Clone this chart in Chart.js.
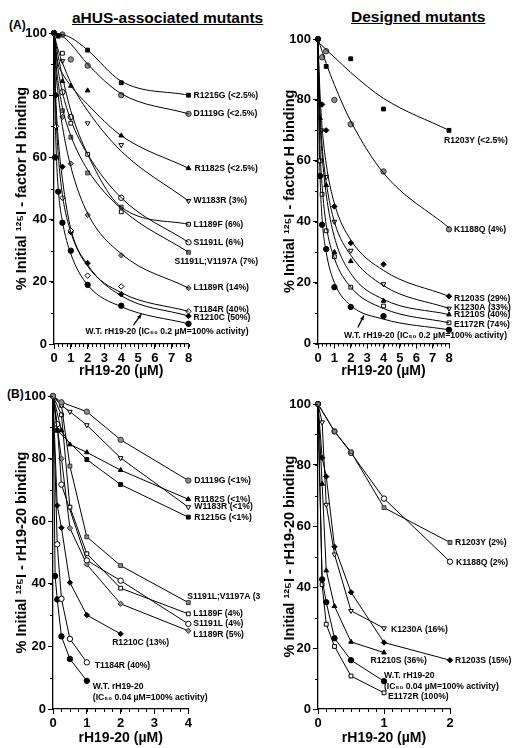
<!DOCTYPE html>
<html>
<head>
<meta charset="utf-8">
<script src="https://cdn.jsdelivr.net/npm/chart.js@4.4.1/dist/chart.umd.min.js"></script>
<style>
  body { margin: 0; width: 520px; height: 748px; overflow: hidden; background: #fff; position: relative;
         font-family: "Liberation Sans", Arial, sans-serif; }
  canvas { position: absolute; }
  .txt { position: absolute; font-weight: bold; color: #000; white-space: nowrap; }
  .head { font-size: 15.5px; text-decoration: underline; }
  .tag { font-size: 12px; }
</style>
</head>
<body>
<div class="txt tag" style="left:9px;top:18px">(A)</div>
<div class="txt head" style="left:72px;top:9px">aHUS-associated mutants</div>
<div class="txt head" style="left:351px;top:8px">Designed mutants</div>
<div class="txt tag" style="left:7px;top:387px">(B)</div>

<canvas id="aLeft" width="260" height="386" style="left:0;top:0"></canvas>
<canvas id="aRight" width="260" height="386" style="left:260px;top:0"></canvas>
<canvas id="bLeft" width="260" height="368" style="left:0;top:380px"></canvas>
<canvas id="bRight" width="260" height="368" style="left:260px;top:380px"></canvas>

<script>
// ---- (A) factor H binding, fitted curves ----
const aX = [0, 0.0625, 0.125, 0.25, 0.5, 1, 2, 4, 8];

const aHusNames = ["R1215G (<2.5%)", "D1119G (<2.5%)", "R1182S (<2.5%)", "W1183R (3%)", "L1189F (6%)",
  "S1191L (6%)", "S1191L;V1197A (7%)", "L1189R (14%)", "T1184R (40%)", "R1210C (50%)",
  "W.T. rH19-20 (IC\u2085\u2080 0.2 \u00b5M=100% activity)"];
const aHusPoints = [
  [100, null, null, 99, null, null, 94.5, 84, 80],
  [100, null, null, null, 99.5, 91.5, 89.5, 80, 74],
  [100, null, null, null, 84.5, 83, 81.5, 67, 56.5],
  [100, null, null, null, 91, null, 71, 64, 46],
  [100, null, null, null, 93.5, 71, 61, 42.5, 38.5],
  [100, null, null, null, 81, 73, null, 47, 32.7],
  [100, null, null, null, 75, 66.5, 55, 44, 29.5],
  [100, null, null, null, 73, 58, 41.5, 28.5, 18],
  [100, null, 70, null, 47, 36.5, 22, 18.5, 10.5],
  [100, null, 80, null, 57, 36, 26, 16, 9],
  [100, 60, null, 49, 39, 30, 19, 12.3, 6.5]
];
const aHusFits = [
  [100, 100, 100, 99.8, 99.5, 98.5, 94.5, 84.5, 80],
  [100, 100, 99.9, 99.7, 99, 96.5, 90, 80.5, 74],
  [100, 97, 94, 90, 87, 83, 77, 67, 56.5],
  [100, 98.5, 97, 94.5, 90.5, 84, 75, 62, 46],
  [100, 98, 96, 92.5, 86, 75, 61, 44, 38.5],
  [100, 96, 93, 88, 81, 72, 61, 47, 32.7],
  [100, 95, 90, 84, 76, 67, 56, 43.5, 29.5],
  [100, 93, 87, 80, 70, 57, 42, 29, 18],
  [100, 83, 73, 61, 48, 36, 25, 16.5, 10.5],
  [100, 86, 77, 66, 53, 37, 25.5, 15.5, 9],
  [100, 76, 63, 50, 39.5, 29, 19, 12, 6.5]
];
const aHusMarks = ["sqBlack", "ciGray", "triBlack", "triOpen", "sqOpen", "ciOpen", "sqGray", "diaGray", "diaOpen", "diaBlack", "ciBlack"];

const aDesNames = ["R1203Y (<2.5%)", "K1188Q (4%)", "R1203S (29%)", "K1230A (33%)", "R1210S (40%)", "E1172R (74%)",
  "W.T. rH19-20 (IC\u2085\u2080 0.2 \u00b5M=100% activity)"];
const aDesPoints = [
  [100, null, null, null, 91, null, 93.5, 77, 70],
  [100, null, null, 94, 96, 80, 72, 56.5, 37.5],
  [100, null, null, 78.5, 70, 45, 33, 26, 15.5],
  [100, null, null, 70, 54.7, 40, 30.5, 19.5, 11.5],
  [100, null, 74, null, 52, 30, 27, 14, 9.5],
  [100, null, 60, 49, 37, 28.5, 18.5, 12.3, 6.8],
  [100, null, 55, 39, 31, 18.5, 12, 9, 4.5]
];
const aDesFits = [
  [99, 98.7, 98.4, 97.8, 96.5, 94, 89, 80.5, 70],
  [100, 99, 98, 96, 92, 85, 73, 56, 38],
  [100, 90, 82, 71, 59, 46, 34, 24, 15.5],
  [100, 86, 76, 65, 53, 40, 29, 19, 11.5],
  [100, 84, 73, 62, 49, 35, 23, 14.5, 9.5],
  [100, 78, 64, 52, 39, 28, 18.5, 11.5, 6.8],
  [100, 70, 55, 41, 30, 20, 12.5, 8, 4.5]
];
const aDesMarks = ["sqBlack", "ciGray", "diaBlack", "triOpen", "triBlack", "sqOpen", "ciBlack"];

// ---- (B) rH19-20 binding, point-to-point ----
const bLX = [0, 0.0625, 0.125, 0.25, 0.5, 1, 2, 4];
const bHusNames = ["D1119G (<1%)", "R1182S (<1%)", "W1183R (<1%)", "R1215G (<1%)", "S1191L;V1197A (3%)",
  "L1189F (4%)", "S1191L (4%)", "L1189R (5%)", "R1210C (13%)", "T1184R (40%)", "W.T. rH19-20"];
const bHusValues = [
  [100, null, null, 98, null, 95, 86, 73],
  [100, null, null, 89, 84.5, 82, 76.3, 67],
  [100, null, null, 97, 95, 90.7, 80.2, 64.5],
  [100, null, 89, null, null, 79.7, 71.7, 61.3],
  [100, null, null, 97, 77.6, 55, 45.8, 34],
  [100, null, null, 94, 64.5, 49.6, 38.6, 30.4],
  [100, null, 91, 71.7, null, 47.5, 41, 27.2],
  [100, null, null, 80, 57.8, 46.2, 33.6, 25],
  [100, null, 65, 57.9, 40.4, 30, 24, null],
  [100, null, 52.6, 35.2, 22.4, 14.9, null, null],
  [100, 42.5, 35, 23.2, 16, 9, null, null]
];
const bHusMarks = ["ciGray", "triBlack", "triOpen", "sqBlack", "sqGray", "sqOpen", "ciOpen", "diaGray", "diaBlack", "ciOpen", "ciBlack"];

const bRX = [0, 0.0625, 0.125, 0.25, 0.5, 1, 2];
const bDesNames = ["R1203Y (2%)", "K1188Q (2%)", "K1230A (16%)", "R1203S (15%)", "R1210S (36%)", "W.T. rH19-20", "E1172R (100%)"];
const bDesValues = [
  [100, null, null, 91, 84.3, 66, 54.6],
  [100, null, null, 91, 84, 69, 48.3],
  [100, 94, 67, 50.7, 32.2, 26.5, null],
  [100, 82.4, 76.2, 53.2, 38.3, 21.8, 16],
  [100, 73.8, 45.4, 33.7, 22, 18.5, null],
  [100, 42.5, 35, 23.2, 16, 9.1, null],
  [100, 40.8, 27.8, 20.5, 10.8, 5.3, null]
];
const bDesMarks = ["sqGray", "ciOpen", "triOpen", "diaBlack", "triBlack", "ciBlack", "sqOpen"];
const wtSecondLine = "(IC\u2085\u2080 0.04 \u00b5M=100% activity)";

// label placement relative to the last point of each series: [dx, dy, align]
const aHusTagPos = [[5, 0], [5, 0], [6, 0], [5, 0], [5, 0], [5, 0], [-14, 9], [5, 0], [5, -2], [5, 2], [60, 8, "right"]];
const aDesTagPos = [[-5, 10], [5, 0], [5, 2], [5, -1], [5, 0], [5, 2], [58, 6, "right"]];
const bHusTagPos = [[6, 0], [6, 0], [6, 0], [6, 0], [-1, -6], [5, 0], [5, 0], [5, 4], [-8.5, 8.5], [8, 3], [6, 6]];
const bDesTagPos = [[5, 0], [6, 1], [7, 1], [5, 0], [-13.5, 8], [0, -6], [4, 4]];

const MARK = {
  sqBlack: { s: "rect", bg: "#000", bd: "#000" },
  sqGray: { s: "rect", bg: "#8c8c8c", bd: "#333" },
  sqOpen: { s: "rect", bg: "#fff", bd: "#000" },
  ciBlack: { s: "circle", bg: "#000", bd: "#000" },
  ciGray: { s: "circle", bg: "#8c8c8c", bd: "#333" },
  ciOpen: { s: "circle", bg: "#fff", bd: "#000" },
  triBlack: { s: "triangle", bg: "#000", bd: "#000" },
  triOpen: { s: "triangle", bg: "#fff", bd: "#000", rot: 180 },
  diaBlack: { s: "rectRot", bg: "#000", bd: "#000" },
  diaGray: { s: "rectRot", bg: "#8c8c8c", bd: "#333" },
  diaOpen: { s: "rectRot", bg: "#fff", bd: "#000" }
};

const FONT = '"Liberation Sans", Arial, sans-serif';

function toXY(xs, ys) {
  return xs.map((x, i) => ({ x: x, y: ys[i] })).filter(p => p.y !== null);
}

const seriesLabels = {
  id: "seriesLabels",
  afterDatasetsDraw(chart) {
    const ctx = chart.ctx;
    ctx.save();
    ctx.fillStyle = "#000";
    ctx.font = "bold 8.6px " + FONT;
    ctx.textBaseline = "middle";
    chart.data.datasets.forEach((ds, i) => {
      if (!ds.tag) return;
      const els = chart.getDatasetMeta(i).data;
      const last = els[els.length - 1];
      ctx.textAlign = ds.tag.align;
      ds.tag.lines.forEach((line, k) => {
        ctx.fillText(line, last.x + ds.tag.dx, last.y + ds.tag.dy + k * 11);
      });
    });
    ctx.restore();
  }
};

const minorTicks = {
  id: "minorTicks",
  afterDraw(chart, args, opts) {
    const { ctx, scales: { x, y } } = chart;
    ctx.save();
    ctx.strokeStyle = "#000";
    ctx.lineWidth = 1;
    ctx.beginPath();
    for (let v = x.min; v <= x.max + 1e-9; v += opts.xStep) {
      const px = Math.round(x.getPixelForValue(v)) + 0.5;
      ctx.moveTo(px, y.bottom);
      ctx.lineTo(px, y.bottom + 3);
    }
    for (let v = y.min; v <= y.max + 1e-9; v += opts.yStep) {
      const py = Math.round(y.getPixelForValue(v)) + 0.5;
      ctx.moveTo(x.left, py);
      ctx.lineTo(x.left - 3, py);
    }
    ctx.stroke();
    if (opts.arrow) {
      const a = opts.arrow;
      const tx = x.getPixelForValue(a.x), ty = y.getPixelForValue(a.y);
      const fx = tx + a.dx, fy = ty + a.dy;
      const ang = Math.atan2(ty - fy, tx - fx);
      ctx.beginPath();
      ctx.lineWidth = 1.3;
      ctx.moveTo(fx, fy);
      ctx.lineTo(tx, ty);
      ctx.stroke();
      ctx.beginPath();
      ctx.fillStyle = "#000";
      ctx.moveTo(tx, ty);
      ctx.lineTo(tx - 5 * Math.cos(ang - 0.4), ty - 5 * Math.sin(ang - 0.4));
      ctx.lineTo(tx - 5 * Math.cos(ang + 0.4), ty - 5 * Math.sin(ang + 0.4));
      ctx.closePath();
      ctx.fill();
    }
    ctx.restore();
  }
};

function buildDatasets(xs, names, values, marks, tagPos, fits, extraLine) {
  const sets = [];
  names.forEach((name, i) => {
    const m = MARK[marks[i]];
    const pos = tagPos[i];
    const lines = [name];
    if (extraLine && name.startsWith("W.T.")) lines.push(extraLine);
    if (fits) {
      sets.push({
        data: toXY(xs, fits[i]), showLine: true, pointRadius: 0, borderColor: "#000",
        borderWidth: 1, cubicInterpolationMode: "monotone", clip: false
      });
    }
    sets.push({
      data: toXY(xs, values[i]),
      showLine: !fits, borderColor: "#000", borderWidth: 1,
      pointStyle: m.s, pointRadius: 2.7, pointBackgroundColor: m.bg, pointBorderColor: m.bd,
      pointBorderWidth: 1, pointRotation: m.rot || 0, clip: false,
      tag: { lines: lines, dx: pos[0], dy: pos[1], align: pos[2] || "left" }
    });
  });
  return sets;
}

function makePanel(id, g) {
  new Chart(document.getElementById(id), {
    type: "scatter",
    data: { datasets: g.datasets },
    options: {
      responsive: false,
      animation: false,
      layout: { padding: { left: 0, top: g.top, right: g.right, bottom: 0 } },
      plugins: {
        legend: { display: false },
        tooltip: { enabled: false },
        minorTicks: { xStep: g.xMinor, yStep: 10, arrow: g.arrow }
      },
      scales: {
        x: {
          type: "linear", min: 0, max: g.xMax,
          afterFit: s => { s.height = g.xH; },
          border: { color: "#000", width: 1.3 },
          grid: { drawOnChartArea: false, tickLength: 5, color: "#000" },
          ticks: { stepSize: 1, color: "#000", padding: 2, font: { family: FONT, size: 13, weight: "bold" } },
          title: { display: true, text: "rH19-20 (\u00b5M)", color: "#000", padding: { top: 0, bottom: g.xTitlePad },
                   font: { family: FONT, size: 14, weight: "bold" } }
        },
        y: {
          min: 0, max: 100,
          afterFit: s => { s.width = g.yW; },
          border: { color: "#000", width: 1.3 },
          grid: { drawOnChartArea: false, tickLength: 5, color: "#000" },
          ticks: { stepSize: 20, color: "#000", padding: 2, font: { family: FONT, size: 13, weight: "bold" } },
          title: { display: true, text: g.yTitle, color: "#000", padding: { top: g.yTitlePad, bottom: 0 },
                   font: { family: FONT, size: 14.5, weight: "bold" } }
        }
      }
    },
    plugins: [minorTicks, seriesLabels]
  });
}

const yTitleA = "% Initial \u00b9\u00b2\u2075I - factor H binding";
const yTitleB = "% Initial \u00b9\u00b2\u2075I - rH19-20 binding";

makePanel("aLeft", {
  datasets: buildDatasets(aX, aHusNames, aHusPoints, aHusMarks, aHusTagPos, aHusFits),
  xMax: 8, xMinor: 0.25, top: 33, right: 71.5, yW: 54, xH: 42, xTitlePad: 6.6, yTitlePad: 13.3,
  yTitle: yTitleA, arrow: { x: 5.2, y: 9.6, dx: -8, dy: 11 }
});
makePanel("aRight", {
  datasets: buildDatasets(aX, aDesNames, aDesPoints, aDesMarks, aDesTagPos, aDesFits),
  xMax: 8, xMinor: 0.25, top: 39, right: 71, yW: 58, xH: 42.5, xTitlePad: 6.6, yTitlePad: 21.3,
  yTitle: yTitleA, arrow: { x: 2.8, y: 9.2, dx: -6, dy: 12 }
});
makePanel("bLeft", {
  datasets: buildDatasets(bLX, bHusNames, bHusValues, bHusMarks, bHusTagPos, null, wtSecondLine),
  xMax: 4, xMinor: 0.25, top: 16, right: 71.7, yW: 53, xH: 39, xTitlePad: 1.9, yTitlePad: 13.3,
  yTitle: yTitleB
});
makePanel("bRight", {
  datasets: buildDatasets(bRX, bDesNames, bDesValues, bDesMarks, bDesTagPos, null, wtSecondLine),
  xMax: 2, xMinor: 0.125, top: 24, right: 70, yW: 58, xH: 39, xTitlePad: 1.9, yTitlePad: 21.3,
  yTitle: yTitleB
});
</script>
</body>
</html>
